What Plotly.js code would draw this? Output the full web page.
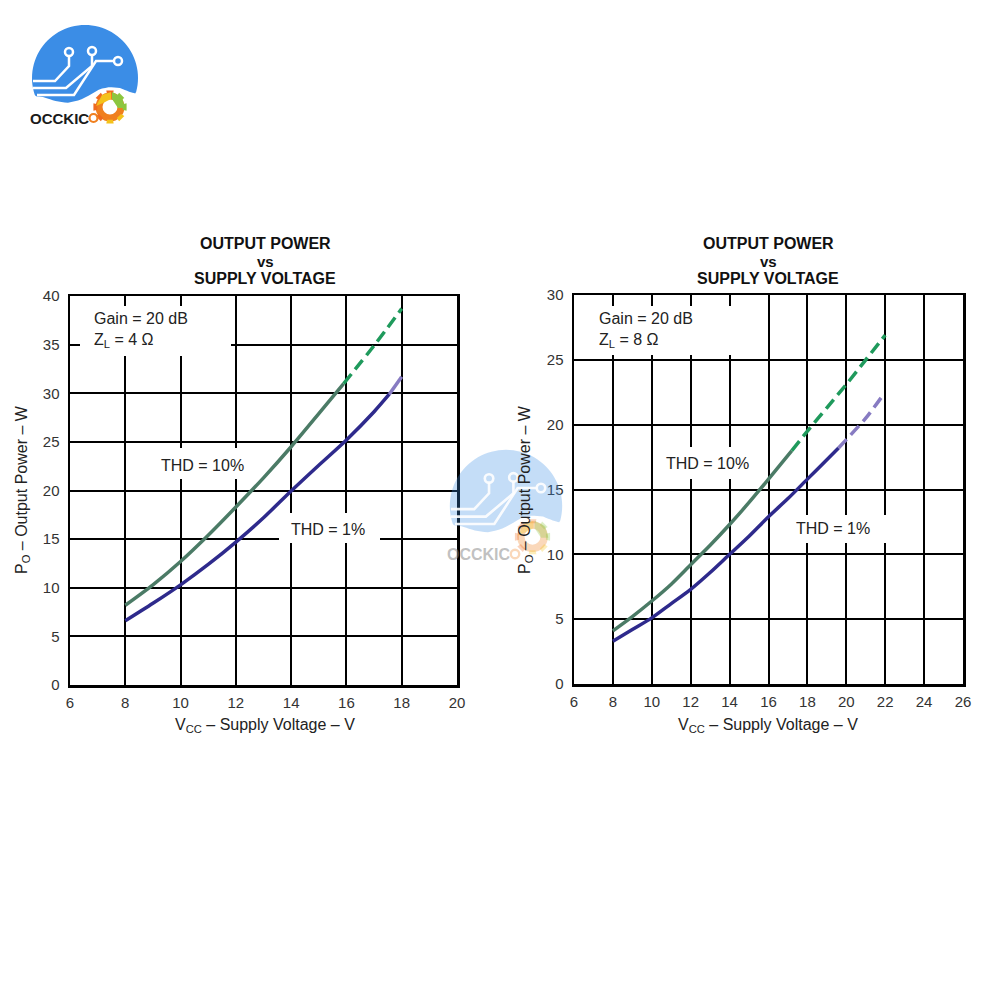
<!DOCTYPE html>
<html>
<head>
<meta charset="utf-8">
<script src="https://cdn.plot.ly/plotly-3.0.1.min.js"></script>
<style>html,body{margin:0;padding:0;background:#fff;} #chart{width:1000px;height:1000px;}</style>
</head>
<body>
<div id="chart"></div>
<script>
// ---------- DATA ----------
// Left chart: Z_L = 4 ohm
const leftXTicks = [6, 8, 10, 12, 14, 16, 18, 20];
const leftYTicks = [0, 5, 10, 15, 20, 25, 30, 35, 40];
const left10SolidX = [8, 9, 10, 11, 12, 13, 14, 15, 15.9];
const left10SolidY = [8.2, 10.3, 12.7, 15.4, 18.3, 21.3, 24.5, 27.9, 31.0];
const left10DashX = [15.9, 17, 18];
const left10DashY = [31.0, 34.9, 38.7];
const left1SolidX = [8, 9, 10, 11, 12, 13, 14, 15, 16, 17, 17.55];
const left1SolidY = [6.6, 8.4, 10.3, 12.4, 14.7, 17.2, 19.95, 22.6, 25.2, 28.1, 29.9];
const left1LightX = [17.55, 18];
const left1LightY = [29.9, 31.7];

// Right chart: Z_L = 8 ohm
const rightXTicks = [6, 8, 10, 12, 14, 16, 18, 20, 22, 24, 26];
const rightYTicks = [0, 5, 10, 15, 20, 25, 30];
const right10SolidX = [8, 9, 10, 11, 12, 13, 14, 15, 16, 17.2];
const right10SolidY = [4.1, 5.2, 6.4, 7.7, 9.2, 10.7, 12.3, 14.0, 15.8, 18.0];
const right10DashX = [17.2, 18, 19, 20, 21, 22];
const right10DashY = [18.0, 19.5, 21.3, 23.1, 25.0, 26.9];
const right1SolidX = [8, 9, 10, 11, 12, 13, 14, 15, 16, 17, 18, 19, 19.6];
const right1SolidY = [3.3, 4.2, 5.1, 6.2, 7.3, 8.6, 10.0, 11.4, 12.9, 14.3, 15.8, 17.3, 18.2];
const right1DashX = [19.6, 20, 21, 21.9];
const right1DashY = [18.2, 18.85, 20.5, 22.3];

// Text
const titleLines = ['OUTPUT POWER', 'vs', 'SUPPLY VOLTAGE'];
const gainText = 'Gain = 20 dB';
const zlLeftText = 'Z<sub>L</sub> = 4 Ω';
const zlRightText = 'Z<sub>L</sub> = 8 Ω';
const thd10Text = 'THD = 10%';
const thd1Text = 'THD = 1%';
const xTitleText = 'V<sub>CC</sub> – Supply Voltage – V';
const yTitleText = 'P<sub>O</sub> – Output Power – W';
const logoText = 'OCCKIC';

// ---------- STYLE ----------
const C_GREEN = '#4b7b66';
const C_GREEN_D = '#1f9a5c';
const C_NAVY = '#2e2a8c';
const C_LIGHT = '#877bc2';
const LW = 3.5;
const FONT = 'Liberation Sans, Arial, Helvetica, sans-serif';

// pixel -> paper helpers (margins are 0, figure is 1000x1000)
const px = v => v / 1000;
const py = v => 1 - v / 1000;

function tr(x, y, color, dash, xa, ya) {
  return {x: x, y: y, type: 'scatter', mode: 'lines', xaxis: xa, yaxis: ya,
    line: {color: color, width: LW, dash: dash || 'solid', shape: 'spline', smoothing: 0.8},
    hoverinfo: 'skip'};
}
const DASH = '12px,6px';

const data = [
  tr(left10SolidX, left10SolidY, C_GREEN, null, 'x', 'y'),
  tr(left10DashX, left10DashY, C_GREEN_D, DASH, 'x', 'y'),
  tr(left1SolidX, left1SolidY, C_NAVY, null, 'x', 'y'),
  tr(left1LightX, left1LightY, C_LIGHT, null, 'x', 'y'),
  tr(right10SolidX, right10SolidY, C_GREEN, null, 'x2', 'y2'),
  tr(right10DashX, right10DashY, C_GREEN_D, DASH, 'x2', 'y2'),
  tr(right1SolidX, right1SolidY, C_NAVY, null, 'x2', 'y2'),
  tr(right1DashX, right1DashY, C_LIGHT, DASH, 'x2', 'y2')
];

function axisBase(extra) {
  return Object.assign({
    showgrid: true, gridcolor: '#000', gridwidth: 2,
    showline: true, linecolor: '#000', linewidth: 2.5, mirror: true,
    zeroline: false, ticks: 'outside', ticklen: 2, tickcolor: 'rgba(0,0,0,0)',
    tickfont: {size: 15, color: '#333', family: FONT},
    tickmode: 'array', fixedrange: true
  }, extra);
}

const layout = {
  width: 1000, height: 1000,
  margin: {l: 0, r: 0, t: 0, b: 0},
  paper_bgcolor: '#fff', plot_bgcolor: '#fff',
  showlegend: false,
  font: {family: FONT, color: '#222'},
  xaxis: axisBase({domain: [px(70), px(457)], range: [6, 20], tickvals: leftXTicks, ticktext: leftXTicks.map(String), anchor: 'y'}),
  yaxis: axisBase({domain: [py(685), py(296)], range: [0, 40], tickvals: leftYTicks, ticktext: leftYTicks.map(String), anchor: 'x', ticklen: 5}),
  xaxis2: axisBase({domain: [px(574), px(963)], range: [6, 26], tickvals: rightXTicks, ticktext: rightXTicks.map(String), anchor: 'y2'}),
  yaxis2: axisBase({domain: [py(684), py(295)], range: [0, 30], tickvals: rightYTicks, ticktext: rightYTicks.map(String), anchor: 'x2', ticklen: 5}),
  shapes: [],
  annotations: []
};

// white boxes behind in-plot labels (gridlines interrupted)
function wbox(x0, y0, x1, y1) {
  layout.shapes.push({type: 'rect', xref: 'paper', yref: 'paper', x0: px(x0), x1: px(x1), y0: py(y1), y1: py(y0),
    fillcolor: '#fff', line: {width: 0}, layer: 'above'});
}
wbox(80, 306, 231, 356);
wbox(157, 448, 245, 479);
wbox(279, 513, 380, 543);
wbox(578, 306, 745, 355);
wbox(662, 447, 752, 479);
wbox(792, 515, 888, 543);

function ann(text, x, y, opts) {
  layout.annotations.push(Object.assign({text: text, xref: 'paper', yref: 'paper', x: px(x), y: py(y),
    showarrow: false, xanchor: 'center', yanchor: 'middle',
    font: {family: FONT, size: 16, color: '#222'}}, opts || {}));
}

// titles
[265, 768].forEach(cx => {
  ann('<b>' + titleLines[0] + '</b>', cx, 243, {font: {family: FONT, size: 16, color: '#111'}});
  ann('<b>' + titleLines[1] + '</b>', cx, 261, {font: {family: FONT, size: 15, color: '#111'}});
  ann('<b>' + titleLines[2] + '</b>', cx, 278, {font: {family: FONT, size: 16, color: '#111'}});
});

// in-plot labels
ann(gainText, 92, 319, {xanchor: 'left'});
ann(zlLeftText, 92, 341, {xanchor: 'left'});
ann(thd10Text, 202, 465);
ann(thd1Text, 328, 529);
ann(gainText, 597, 319, {xanchor: 'left'});
ann(zlRightText, 597, 341, {xanchor: 'left'});
ann(thd10Text, 707, 464);
ann(thd1Text, 833, 528);

// axis titles
ann(xTitleText, 265, 725);
ann(xTitleText, 768, 725);
ann(yTitleText, 22, 490, {textangle: -90});
ann(yTitleText, 525, 490, {textangle: -90});

// ---------- LOGO shapes ----------
function circ(cx, cy, r, fill, lineColor, lw, opacity) {
  layout.shapes.push({type: 'circle', xref: 'paper', yref: 'paper', x0: px(cx - r), x1: px(cx + r), y0: py(cy + r), y1: py(cy - r),
    fillcolor: fill, line: {color: lineColor || 'rgba(0,0,0,0)', width: lw || 0}, opacity: opacity == null ? 1 : opacity, layer: 'above'});
}
function pathPx(pts, closed, fill, lineColor, lw, opacity) {
  let d = pts.map((p, i) => (i ? 'L' : 'M') + px(p[0]).toFixed(5) + ',' + py(p[1]).toFixed(5)).join(' ') + (closed ? ' Z' : '');
  layout.shapes.push({type: 'path', xref: 'paper', yref: 'paper', path: d,
    fillcolor: fill || 'rgba(0,0,0,0)', line: {color: lineColor || 'rgba(0,0,0,0)', width: lw || 0},
    opacity: opacity == null ? 1 : opacity, layer: 'above'});
}
const WAVE = [[-60, 17], [-42, 19], [-30, 23], [-18, 25], [-5, 22], [5, 17], [15, 11], [25, 9], [35, 10], [45, 14], [60, 18]];
function waveY(dx) {
  for (let i = 0; i < WAVE.length - 1; i++) {
    const a = WAVE[i], b = WAVE[i + 1];
    if (dx >= a[0] && dx <= b[0]) return a[1] + (b[1] - a[1]) * (dx - a[0]) / (b[0] - a[0]);
  }
  return 20;
}
function logo(cx, cy, s, op, textColor, textDy, textSize) {
  const B = '#3b8de6';
  const P = (dx, dy) => [cx + dx * s, cy + dy * s];
  // disc with a wavy bottom edge
  const disc = [];
  for (let k = 0; k < 96; k++) {
    const a = 2 * Math.PI * k / 96;
    const dx = 53 * Math.cos(a), dy = 53 * Math.sin(a);
    disc.push(P(dx, Math.min(dy, waveY(dx))));
  }
  pathPx(disc, true, B, null, 0, op);
  // circuit traces
  const lo = op < 1 ? Math.min(1, op * 3) : 1;
  pathPx([P(-16, -22), P(-16, -12), P(-30, 3), P(-52, 3)], false, null, '#fff', 2.5 * s, lo);
  pathPx([P(7, -23), P(7, -12), P(-19, 10), P(-52, 10)], false, null, '#fff', 2.5 * s, lo);
  pathPx([P(29, -17), P(11, -17), P(-11, 17), P(-48, 17)], false, null, '#fff', 2.5 * s, lo);
  circ(cx - 16 * s, cy - 26 * s, 4 * s, 'rgba(0,0,0,0)', '#fff', 2.5 * s, lo);
  circ(cx + 7 * s, cy - 27 * s, 4 * s, 'rgba(0,0,0,0)', '#fff', 2.5 * s, lo);
  circ(cx + 33 * s, cy - 17 * s, 4 * s, 'rgba(0,0,0,0)', '#fff', 2.5 * s, lo);
  // gear
  const gx = cx + 25 * s, gy = cy + 29 * s;
  circ(gx, gy, 11 * s, 'rgba(0,0,0,0)', '#f07f1e', 7 * s, op);
  for (let k = 0; k < 8; k++) {
    const a = k * Math.PI / 4;
    const col = k < 2 ? '#8cc63f' : (k > 5 ? '#f4c21a' : '#ef6a1f');
    const a1 = a - 0.22, a2 = a + 0.22;
    pathPx([[gx + 13 * s * Math.cos(a1), gy - 13 * s * Math.sin(a1)], [gx + 17 * s * Math.cos(a1), gy - 17 * s * Math.sin(a1)],
            [gx + 17 * s * Math.cos(a2), gy - 17 * s * Math.sin(a2)], [gx + 13 * s * Math.cos(a2), gy - 13 * s * Math.sin(a2)]], true, col, null, 0, op);
  }
  pathPx([[gx - 14 * s, gy - 1 * s], [gx - 8 * s, gy - 12 * s], [gx + 1 * s, gy - 15 * s], [gx + 1 * s, gy - 8 * s], [gx - 7 * s, gy - 4 * s]], true, '#f4c21a', null, 0, op);
  pathPx([[gx + 2 * s, gy - 15 * s], [gx + 12 * s, gy - 10 * s], [gx + 15 * s, gy + 1 * s], [gx + 8 * s, gy + 1 * s], [gx + 2 * s, gy - 8 * s]], true, '#8cc63f', null, 0, op);
  // text
  layout.annotations.push({text: '<b>' + logoText + '</b>', xref: 'paper', yref: 'paper', x: px(cx - 25.5 * s), y: py(cy + textDy),
    showarrow: false, xanchor: 'center', yanchor: 'middle',
    font: {family: 'Liberation Sans, Arial', size: textSize, color: textColor}});
  circ(cx + 8.5 * s, cy + textDy, 4 * s, 'rgba(0,0,0,0)', '#f07f1e', 2.2 * s, op);
}
logo(85, 78, 1, 1, '#1a1a1a', 40, 15);
logo(506, 506, 1.06, 0.3, 'rgba(140,140,140,0.55)', 48, 16);

Plotly.newPlot('chart', data, layout, {displayModeBar: false, staticPlot: true});
</script>
</body>
</html>
